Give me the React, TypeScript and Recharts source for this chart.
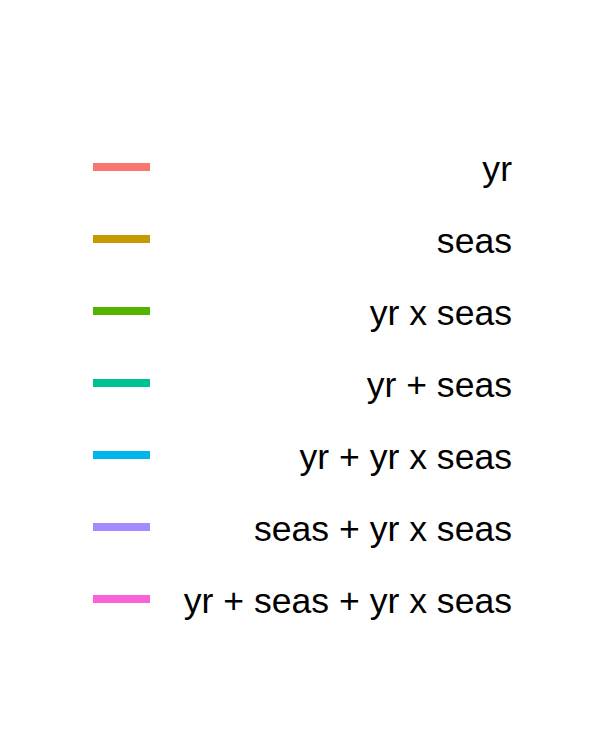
import { LineChart, Line, XAxis, YAxis, Legend } from 'recharts'

const terms = ['yr', 'seas', 'yr x seas', 'yr + seas', 'yr + yr x seas', 'seas + yr x seas', 'yr + seas + yr x seas']
const COLORS = ['#F8766D', '#C49A00', '#53B400', '#00C094', '#00B6EB', '#A58AFF', '#FB61D7']

const W = 600
const H = 750

// legend-only figure: keys stacked down the page, labels right aligned
const KeyLegend = ({ payload }: any) => {
  const raw = payload && payload.length ? payload : terms.map((t, i) => ({ value: t, color: COLORS[i] }))
  // keep the order the terms were declared in, not alphabetical
  const items = [...raw].sort((a: any, b: any) => terms.indexOf(a.value) - terms.indexOf(b.value))
  return (
    <svg width={W} height={H} style={{ display: 'block' }}>
      <rect x={0} y={0} width={W} height={H} fill="#ffffff" />
      {items.map((p: any, i: number) => {
        const cy = 167 + i * 72
        return (
          <g key={p.value}>
            <line x1={93} x2={150} y1={cy} y2={cy} stroke={p.color} strokeWidth={8} />
            <text x={512} y={cy + 14} textAnchor="end" fontSize={35.6} fill="#000000"
              fontFamily="'Liberation Sans', Arial, sans-serif">{p.value}</text>
          </g>
        )
      })}
    </svg>
  )
}

export default function App() {
  return (
    <div style={{ position: 'absolute', top: 0, left: 0, width: W, height: H, background: '#fff' }}>
      <LineChart width={W} height={H} data={[]} margin={{ top: 0, right: 0, bottom: 0, left: 0 }}>
        <XAxis hide dataKey="x" />
        <YAxis hide />
        {terms.map((t, i) => (
          <Line key={t} dataKey={t} name={t} stroke={COLORS[i]} strokeWidth={8} dot={false} isAnimationActive={false} />
        ))}
        <Legend content={<KeyLegend />}
          wrapperStyle={{ position: 'absolute', top: 0, left: 0, width: W, height: H, margin: 0 }} />
      </LineChart>
    </div>
  )
}
